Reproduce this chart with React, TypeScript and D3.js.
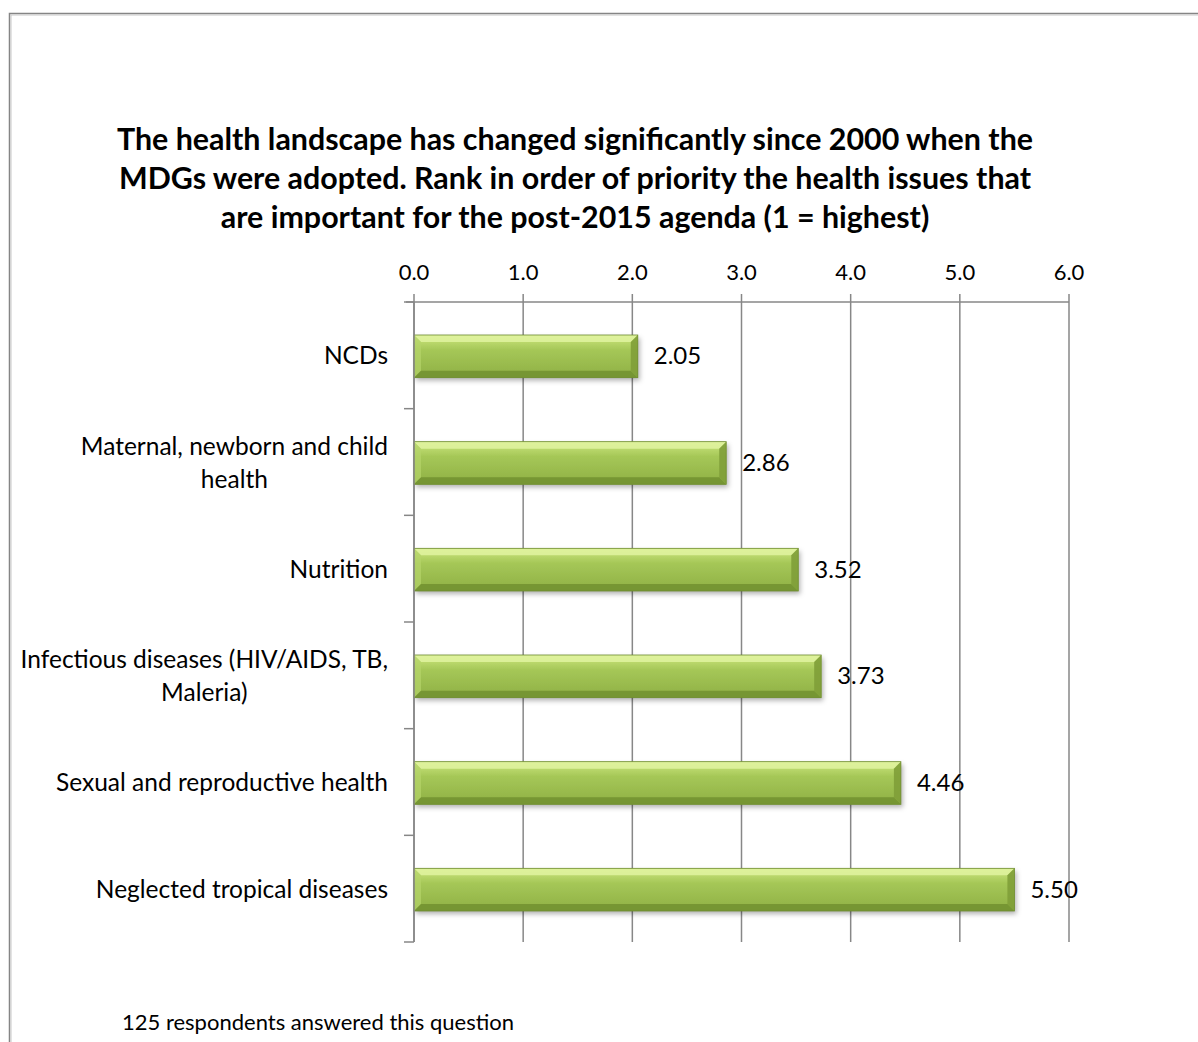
import React, { useEffect, useRef } from "react";
import * as d3 from "d3";

const categories = [
  ["NCDs"],
  ["Maternal, newborn and child", "health"],
  ["Nutrition"],
  ["Infectious diseases (HIV/AIDS, TB,", "Maleria)"],
  ["Sexual and reproductive health"],
  ["Neglected tropical diseases"],
];
const values = [2.05, 2.86, 3.52, 3.73, 4.46, 5.5];
const xTicks = [0, 1, 2, 3, 4, 5, 6];
const titleLines = [
  "The health landscape has changed significantly since 2000 when the",
  "MDGs were adopted. Rank in order of priority the health issues that",
  "are important for the post-2015 agenda (1 = highest)",
];
const footnote = "125 respondents answered this question";

const W = 1198;
const H = 1042;
const FONT = "Lato, 'Open Sans', sans-serif";

export default function App() {
  const ref = useRef<SVGSVGElement | null>(null);

  useEffect(() => {
    const svg = d3.select(ref.current);
    svg.selectAll("*").remove();

    const plot = { left: 414, right: 1069, top: 302, bottom: 942 };
    const x = d3.scaleLinear().domain([0, 6]).range([plot.left, plot.right]);
    const keys = categories.map((_, i) => String(i));
    const y = d3
      .scaleBand<string>()
      .domain(keys)
      .range([plot.top, plot.bottom])
      .paddingInner(0.6)
      .paddingOuter(0.3);

    const defs = svg.append("defs");
    const grad = defs
      .append("linearGradient")
      .attr("id", "barFill")
      .attr("x1", 0)
      .attr("y1", 0)
      .attr("x2", 0)
      .attr("y2", 1);
    grad.append("stop").attr("offset", "0%").attr("stop-color", "#cde77f");
    grad.append("stop").attr("offset", "35%").attr("stop-color", "#a5c757");
    grad.append("stop").attr("offset", "100%").attr("stop-color", "#8fb045");

    const shadow = defs
      .append("filter")
      .attr("id", "barShadow")
      .attr("x", "-10%")
      .attr("y", "-30%")
      .attr("width", "130%")
      .attr("height", "180%");
    shadow
      .append("feDropShadow")
      .attr("dx", 2)
      .attr("dy", 3)
      .attr("stdDeviation", 2.5)
      .attr("flood-color", "#000")
      .attr("flood-opacity", 0.3);

    // Outer frame of the chart area
    svg
      .append("path")
      .attr("d", `M9.5,${H + 5}V13.5H${W + 5}`)
      .attr("fill", "none")
      .attr("stroke", "#858585")
      .attr("stroke-width", 1.5);
    svg
      .append("path")
      .attr("d", `M11,${H + 5}V15H${W + 5}`)
      .attr("fill", "none")
      .attr("stroke", "#c8c8c8")
      .attr("stroke-width", 1);

    // Title
    const title = svg
      .append("text")
      .attr("font-family", FONT)
      .attr("font-weight", "bold")
      .attr("font-size", 30.4)
      .attr("text-anchor", "middle")
      .attr("fill", "#000");
    titleLines.forEach((t, i) => {
      title
        .append("tspan")
        .attr("x", 575)
        .attr("y", 150 + i * 39)
        .text(t);
    });

    // Vertical gridlines
    const gridColor = "#878787";
    svg
      .append("g")
      .selectAll("line")
      .data(xTicks)
      .join("line")
      .attr("x1", (d) => x(d))
      .attr("x2", (d) => x(d))
      .attr("y1", plot.top - 8)
      .attr("y2", plot.bottom)
      .attr("stroke", gridColor)
      .attr("stroke-width", 1.5);

    // Value axis line along the top
    svg
      .append("line")
      .attr("x1", plot.left - 8)
      .attr("x2", plot.right)
      .attr("y1", plot.top)
      .attr("y2", plot.top)
      .attr("stroke", gridColor)
      .attr("stroke-width", 1.5);

    // Value tick labels
    svg
      .append("g")
      .selectAll("text")
      .data(xTicks)
      .join("text")
      .attr("x", (d) => x(d))
      .attr("y", 280)
      .attr("text-anchor", "middle")
      .attr("font-family", FONT)
      .attr("font-size", 22)
      .attr("fill", "#000")
      .text((d) => d3.format(".1f")(d));

    // Category tick marks at band boundaries
    const bounds = keys.map((k) => (y(k) as number) - y.step() * y.paddingOuter());
    bounds.push(plot.bottom);
    svg
      .append("g")
      .selectAll("line")
      .data(bounds)
      .join("line")
      .attr("x1", plot.left - 10)
      .attr("x2", plot.left)
      .attr("y1", (d) => d)
      .attr("y2", (d) => d)
      .attr("stroke", gridColor)
      .attr("stroke-width", 1.5);

    // Bars with bevel and shadow
    const b = 7;
    const bars = svg.append("g");
    values.forEach((v, i) => {
      const x0 = x(0);
      const x1 = x(v);
      const y0 = (y(String(i)) as number) + 1;
      const y1 = y0 + y.bandwidth();
      const g = bars.append("g");
      g.append("rect")
        .attr("x", x0)
        .attr("y", y0)
        .attr("width", x1 - x0)
        .attr("height", y1 - y0)
        .attr("fill", "url(#barFill)")
        .attr("filter", "url(#barShadow)");
      // top bevel (highlight)
      g.append("polygon")
        .attr("points", `${x0},${y0} ${x1},${y0} ${x1 - b},${y0 + b} ${x0 + b},${y0 + b}`)
        .attr("fill", "#e0f3a0")
        .attr("opacity", 0.85);
      // left bevel
      g.append("polygon")
        .attr("points", `${x0},${y0} ${x0 + b},${y0 + b} ${x0 + b},${y1 - b} ${x0},${y1}`)
        .attr("fill", "#b5d469")
        .attr("opacity", 0.7);
      // bottom bevel (shade)
      g.append("polygon")
        .attr("points", `${x0},${y1} ${x1},${y1} ${x1 - b},${y1 - b} ${x0 + b},${y1 - b}`)
        .attr("fill", "#6f8f2e")
        .attr("opacity", 0.8);
      // right bevel
      g.append("polygon")
        .attr("points", `${x1},${y0} ${x1},${y1} ${x1 - b},${y1 - b} ${x1 - b},${y0 + b}`)
        .attr("fill", "#7f9f38")
        .attr("opacity", 0.9);
      g.append("rect")
        .attr("x", x0)
        .attr("y", y0)
        .attr("width", x1 - x0)
        .attr("height", y1 - y0)
        .attr("fill", "none")
        .attr("stroke", "#6e8c30")
        .attr("stroke-width", 0.8);
    });

    // Category axis line
    svg
      .append("line")
      .attr("x1", plot.left)
      .attr("x2", plot.left)
      .attr("y1", plot.top)
      .attr("y2", plot.bottom)
      .attr("stroke", gridColor)
      .attr("stroke-width", 1.5);

    // Value labels
    svg
      .append("g")
      .selectAll("text")
      .data(values)
      .join("text")
      .attr("x", (d) => x(d) + 16)
      .attr("y", (_, i) => (y(String(i)) as number) + y.bandwidth() / 2 + 9)
      .attr("font-family", FONT)
      .attr("font-size", 24)
      .attr("fill", "#000")
      .text((d) => d3.format(".2f")(d));

    // Category labels: lines centred in a block whose right edge sits at labelRight
    const labelRight = 388;
    const lineH = 33;
    categories.forEach((lines, i) => {
      const cy = (y(String(i)) as number) + y.bandwidth() / 2;
      const t = svg
        .append("text")
        .attr("font-family", FONT)
        .attr("font-size", 24.5)
        .attr("fill", "#000")
        .attr("text-anchor", "middle");
      const spans = lines.map((ln, j) =>
        t
          .append("tspan")
          .attr("y", cy + 9 + (j - (lines.length - 1) / 2) * lineH)
          .text(ln)
      );
      const widths = spans.map((s) => (s.node() as SVGTextContentElement).getComputedTextLength());
      const maxW = Math.max(...widths);
      spans.forEach((s) => s.attr("x", labelRight - maxW / 2));
    });

    // Footnote
    svg
      .append("text")
      .attr("x", 122)
      .attr("y", 1030)
      .attr("font-family", FONT)
      .attr("font-size", 22)
      .attr("fill", "#000")
      .text(footnote);
  }, []);

  return (
    <svg
      ref={ref}
      width={W}
      height={H}
      style={{ position: "absolute", left: 0, top: 0, background: "#fff" }}
    />
  );
}
